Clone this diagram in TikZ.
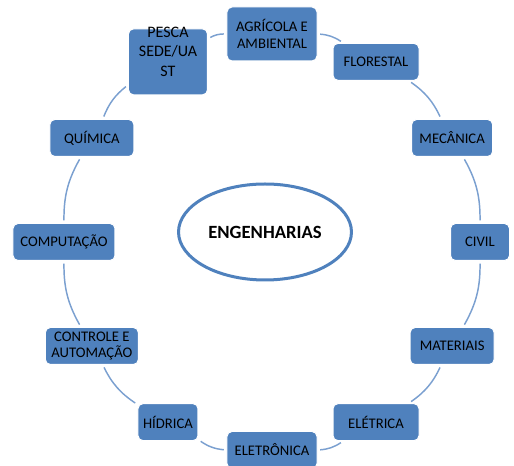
\documentclass[tikz,border=0pt]{standalone}
\usepackage{fontspec}
\setmainfont{Carlito}
\usetikzlibrary{shapes.geometric}
\definecolor{boxblue}{HTML}{4F81BD}
\definecolor{ringblue}{HTML}{7BA0D0}

\begin{document}
\begin{tikzpicture}
        [ x = .75pt, y = .75pt
        , box/.style =
          { fill=boxblue, draw=white, line width=.75pt, rounded corners=3.75pt
          , minimum height=27.75pt, inner sep=1pt, align=center
          , font=\fontsize{11}{12.5}\selectfont }
        , hub/.style =
          { ellipse, draw=boxblue, line width=2.25pt, fill=white
          , minimum width=121.5pt, minimum height=72pt
          , font=\fontsize{14}{16}\selectfont\bfseries }
        , edge/.style =
          { ringblue, line width=1.1pt, shorten >=2pt, shorten <=2pt }
        ]
        \useasboundingbox (-272,-224) rectangle (242,242);

        \node [hub] (eng) at (-7,10) {ENGENHARIAS};

        \node [box, minimum width=67.5pt, minimum height=40.5pt] (agri) at (90:208) {AGRÍCOLA E\\AMBIENTAL};
        \node [box, minimum width=64.5pt] (flor) at (60:208) {FLORESTAL};
        \node [box, minimum width=60.75pt] (mec) at (30:208) {MECÂNICA};
        \node [box, minimum width=44.25pt] (civil) at (0:208) {CIVIL};
        \node [box, minimum width=63pt] (mat) at (-30:208) {MATERIAIS};
        \node [box, minimum width=64.5pt] (eletrica) at (-60:208) {ELÉTRICA};
        \node [box, minimum width=67.5pt] (eletronica) at (-90:208) {ELETRÔNICA};
        \node [box, minimum width=45pt] (hidrica) at (-120:208) {HÍDRICA};
        \node [box, minimum width=69.75pt] (controle) at (-150:208) {CONTROLE E\\AUTOMAÇÃO};
        \node [box, minimum width=76.5pt] (comp) at (180:208) {COMPUTAÇÃO};
        \node [box, minimum width=63pt] (quim) at (150:208) {QUÍMICA};
        \node [box, inner sep=0pt, minimum width=59.25pt, minimum height=49.5pt] (pesca) at (120:208)
          {\parbox[c][49.5pt][c]{59pt}{\centering\fontsize{12}{14.5}\selectfont PESCA\\SEDE/UA\\ST\par\vspace{15pt}}};

        \draw [edge] (agri) to [bend left=15] (flor);
        \draw [edge] (flor) to [bend left=15] (mec);
        \draw [edge] (mec) to [bend left=15] (civil);
        \draw [edge] (civil) to [bend left=15] (mat);
        \draw [edge] (mat) to [bend left=15] (eletrica);
        \draw [edge] (eletrica) to [bend left=15] (eletronica);
        \draw [edge] (eletronica) to [bend left=15] (hidrica);
        \draw [edge] (hidrica) to [bend left=15] (controle);
        \draw [edge] (controle) to [bend left=15] (comp);
        \draw [edge] (comp) to [bend left=15] (quim);
        \draw [edge] (quim) to [bend left=15] (pesca);
        \draw [edge] (pesca) to [bend left=15] (agri);
      \end{tikzpicture}
\end{document}
